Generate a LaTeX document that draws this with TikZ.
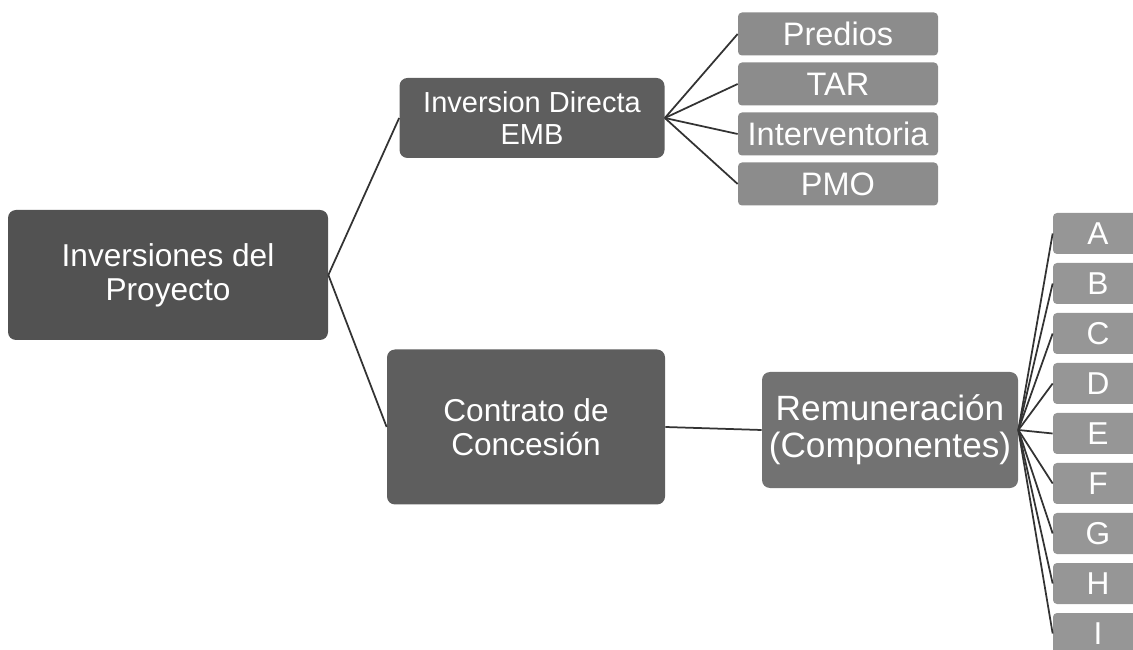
\documentclass[tikz,border=0pt]{standalone}
\usepackage{fontspec}
\setmainfont{Liberation Sans}
\definecolor{rootgray}{HTML}{525252}
\definecolor{midgray}{HTML}{5E5E5E}
\definecolor{remgray}{HTML}{727272}
\definecolor{leafgray}{HTML}{8C8C8C}
\definecolor{compgray}{HTML}{969696}
\begin{document}
\begin{tikzpicture}
	\tikzstyle{box}=[rectangle, rounded corners=1.6mm, inner sep=0pt, text=white, align=center, font=\fontsize{18}{19.5}\selectfont]
	\tikzstyle{leaf}=[box, rounded corners=0.8mm, fill=leafgray, minimum width=4cm, minimum height=0.86cm, font=\fontsize{18.5}{19}\selectfont]
	\tikzstyle{comp}=[box, rounded corners=0.8mm, fill=compgray, minimum width=1.8cm, minimum height=0.82cm, font=\fontsize{18}{19}\selectfont]
	\tikzstyle{link}=[draw=black!80, line width=0.35mm]
	\useasboundingbox (0,0) rectangle (22.66,-13);
	\clip (0,0) rectangle (22.66,-13);
	% Root
	\node at (3.36,-5.5) [box, fill=rootgray, minimum width=6.4cm, minimum height=2.6cm] (root) {Inversiones del\\Proyecto};
	% Level 1
	\node at (10.64,-2.36) [box, fill=midgray, minimum width=5.3cm, minimum height=1.6cm, font=\fontsize{16.5}{18}\selectfont] (direct) {Inversion Directa\\EMB};
	\node at (10.52,-8.54) [box, fill=midgray, minimum width=5.56cm, minimum height=3.1cm] (concession) {Contrato de\\Concesión};
	% Level 2
	\node at (17.8,-8.6) [box, fill=remgray, minimum width=5.12cm, minimum height=2.32cm, font=\fontsize{20}{21}\selectfont] (remun) {Remuneración\\(Componentes)};
	% Direct items
	\foreach \x/\t in {1/Predios,2/TAR,3/Interventoria,4/PMO}
		\node at (16.76, 0.32-\x) [leaf] (item_\x) {\t};
	% Components
	\foreach \x/\t in {1/A,2/B,3/C,4/D,5/E,6/F,7/G,8/H,9/I}
		\node at (21.96, -3.67-\x) [comp] (comp_\x) {\t};
	%---------------------%
	% Root -> Level 1
	\draw [link] (root.east) -- (direct.west);
	\draw [link] (root.east) -- (concession.west);
	% Direct -> items
	\foreach \i in {1,...,4}
		\draw [link] (direct.east) -- (item_\i.west);
	% Concession -> Remuneration
	\draw [link] (concession.east) -- (remun.west);
	% Remuneration -> components
	\foreach \i in {1,...,9}
		\draw [link] (remun.east) -- (comp_\i.west);
	%---------------------%
\end{tikzpicture}
\end{document}
